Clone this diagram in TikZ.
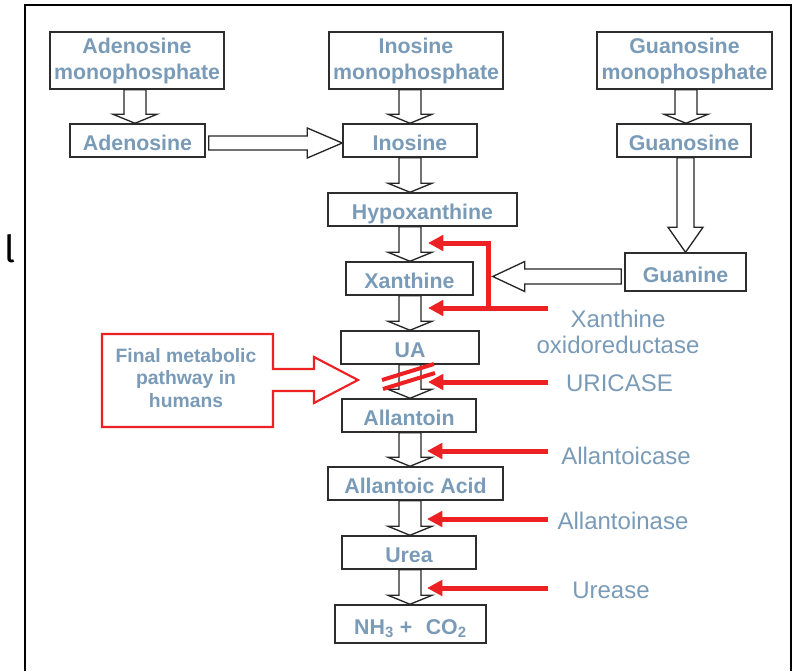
\documentclass[tikz,border=0pt]{standalone}
\usepackage{fontspec}
\setmainfont{Liberation Sans}
\newfontfamily\firafont{Fira Sans}
\usetikzlibrary{arrows.meta,calc}
\definecolor{txtblue}{RGB}{122,155,183}
\definecolor{boxline}{RGB}{45,45,45}
\definecolor{redc}{RGB}{237,32,36}
\newcommand\pxu{0.75pt}
% vertical block arrow: src, dst, x, shaft half, head half, head length (px)
\newcommand\vblock[6]{%
  \draw[blockarrow] let \p1=(#1.south), \p2=(#2.north), \p3=(#3,0) in
   ({\x3-#4*\pxu},\y1) -- ({\x3+#4*\pxu},\y1) -- ({\x3+#4*\pxu},{\y2+#6*\pxu})
   -- ({\x3+#5*\pxu},{\y2+#6*\pxu}) -- (\x3,\y2) -- ({\x3-#5*\pxu},{\y2+#6*\pxu})
   -- ({\x3-#4*\pxu},{\y2+#6*\pxu}) -- cycle;}
% horizontal block arrow: start, end, y, shaft half, head half, head length (px)
\newcommand\hblock[6]{%
  \draw[blockarrow] let \p1=#1, \p2=#2, \p3=(0,#3), \n1={sign(\x2-\x1)} in
   (\x1,{\y3+#4*\pxu}) -- ({\x2-\n1*#6*\pxu},{\y3+#4*\pxu}) -- ({\x2-\n1*#6*\pxu},{\y3+#5*\pxu})
   -- (\x2,\y3) -- ({\x2-\n1*#6*\pxu},{\y3-#5*\pxu}) -- ({\x2-\n1*#6*\pxu},{\y3-#4*\pxu})
   -- (\x1,{\y3-#4*\pxu}) -- cycle;}
\begin{document}
\begin{tikzpicture}[x=0.75pt,y=-0.75pt,
  box/.style={draw=boxline, line width=1.1pt, fill=white, inner sep=0pt, align=center,
    text=txtblue, font=\fontsize{16}{19.5}\selectfont\bfseries},
  one/.style={text height=15pt, text depth=0pt},
  two/.style={text depth=7pt},
  blockarrow/.style={draw=black!85, fill=white, line width=1pt, line join=miter},
  redarrow/.style={draw=redc, line width=3.75pt, -{Triangle[length=11.5pt,width=11.5pt]}},
  strike/.style={draw=redc, line width=3pt},
  enz/.style={text=txtblue, font=\fontsize{18}{19.5}\selectfont, inner sep=0pt, align=center}]

\useasboundingbox (0,0) rectangle (798,671);
\fill[white] (0,0) rectangle (798,671);
\draw[line width=1.5pt] (25,671) -- (25,5) -- (791,5) -- (791,671);
\node[anchor=base west, inner sep=0pt, font=\firafont\fontsize{28}{30}\selectfont] (ell) at (4,262) {l};

% boxes
\node[box, minimum width=174*\pxu, minimum height=57*\pxu] (amp) at (137,60.5) {Adenosine\\monophosphate};
\node[box, one, minimum width=135*\pxu, minimum height=33*\pxu] (ado) at (137.5,140.5) {Adenosine};
\node[box, minimum width=174*\pxu, minimum height=57*\pxu] (imp) at (416,60.5) {Inosine\\monophosphate};
\node[box, one, minimum width=134*\pxu, minimum height=33*\pxu] (ino) at (410,140.5) {Inosine};
\node[box, minimum width=175*\pxu, minimum height=57*\pxu] (gmp) at (684.5,60.5) {Guanosine\\monophosphate};
\node[box, one, minimum width=134*\pxu, minimum height=33*\pxu] (guo) at (684,140.5) {Guanosine};
\node[box, one, minimum width=189*\pxu, minimum height=33*\pxu] (hyp) at (422.5,209.5) {Hypoxanthine};
\node[box, one, minimum width=127*\pxu, minimum height=33*\pxu] (xan) at (409.5,278.5) {Xanthine};
\node[box, one, minimum width=121*\pxu, minimum height=38*\pxu] (gua) at (685.5,272) {Guanine};
\node[box, one, minimum width=138*\pxu, minimum height=33*\pxu] (ua) at (410,347.5) {UA};
\node[box, one, minimum width=134*\pxu, minimum height=33*\pxu] (all) at (409,415.5) {Allantoin};
\node[box, one, minimum width=175*\pxu, minimum height=33*\pxu] (aac) at (415.5,483.5) {Allantoic Acid};
\node[box, one, minimum width=134*\pxu, minimum height=33*\pxu] (urea) at (409,552.5) {Urea};
\node[box, one, minimum width=151*\pxu, minimum height=38*\pxu] (nh) at (410.5,624) {NH\textsubscript{3} +\hspace{0.35em} CO\textsubscript{2}};

% block arrows
\vblock{amp}{ado}{135}{11}{22}{9}
\vblock{imp}{ino}{410}{11}{22}{9}
\vblock{gmp}{guo}{686}{11}{22}{9}
\vblock{ino}{hyp}{410}{11}{22}{9}
\vblock{hyp}{xan}{410}{11}{22}{9}
\vblock{xan}{ua}{410}{11}{22}{9}
\vblock{ua}{all}{410}{11}{22}{9}
\vblock{all}{aac}{410}{11}{22}{9}
\vblock{aac}{urea}{410}{11}{22}{9}
\vblock{urea}{nh}{410}{11}{22}{9}
\vblock{guo}{gua}{685.5}{8.5}{17.5}{25}
\hblock{([xshift=3*\pxu]ado.east)}{(ino.west)}{143}{7}{15}{35}
\hblock{([xshift=-3*\pxu]gua.west)}{([xshift=19*\pxu]xan.east)}{276.5}{7.5}{15}{32}

% final metabolic pathway callout
\draw[draw=redc, line width=1.6pt, fill=white, line join=miter]
  (102,334) -- (273,334) -- (273,369) -- (314,369) -- (314,357) -- (358,380)
  -- (314,403) -- (314,391) -- (273,391) -- (273,427) -- (102,427) -- cycle;
\node[text=txtblue, align=center, inner sep=0pt, font=\fontsize{14.5}{16.9}\selectfont\bfseries] (fin) at (186,378) {Final metabolic\\pathway in\\humans};

% red enzyme arrows
\coordinate (xoS) at (548,308);
\coordinate (xoE) at (428,308);
\coordinate (xoC) at (488,308);
\coordinate (xoT) at (488,243);
\coordinate (xoE2) at (428,243);
\coordinate (urS) at (548,382);
\coordinate (urE) at (428,382);
\coordinate (a1S) at (548,451);
\coordinate (a1E) at (427,451);
\coordinate (a2S) at (548,519);
\coordinate (a2E) at (427,519);
\coordinate (u3S) at (548,588);
\coordinate (u3E) at (427,588);
\draw[redarrow] (xoS) -- (xoE);
\draw[redarrow] (xoC) -- (xoT) -- (xoE2);
\draw[redarrow] (urS) -- (urE);
\draw[redarrow] (a1S) -- (a1E);
\draw[redarrow] (a2S) -- (a2E);
\draw[redarrow] (u3S) -- (u3E);

% strike marks on UA -> Allantoin
\draw[strike] (382,380) -- (434,364);
\draw[strike] (383,389) -- (435,373);

% enzyme labels
\node[enz] (xo) at (618,332) {Xanthine\\oxidoreductase};
\node[enz] (uric) at (619.5,383) {URICASE};
\node[enz] (alc) at (626,456) {Allantoicase};
\node[enz] (aln) at (623,520.5) {Allantoinase};
\node[enz] (ure) at (611,590) {Urease};
\end{tikzpicture}
\end{document}
